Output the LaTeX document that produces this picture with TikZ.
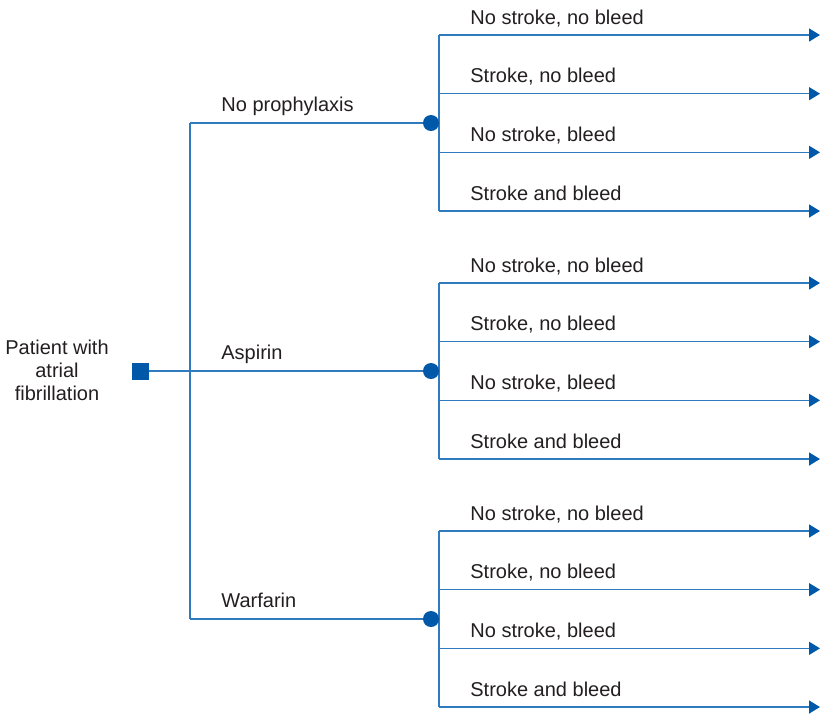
\documentclass[tikz,border=0pt]{standalone}
\usepackage{fontspec}
\setmainfont{Liberation Sans}
\definecolor{treeblue}{HTML}{2F7BC0}
\definecolor{nodeblue}{HTML}{0059A8}
\definecolor{labelgray}{HTML}{231F20}
\usetikzlibrary{arrows.meta}

\begin{document}
\begin{tikzpicture}[x=0.5pt, y=-0.5pt,
  branch/.style={draw=treeblue, line width=0.75pt},
  outcome/.style={branch, -{Triangle[length=5.5pt, width=6.5pt, color=nodeblue]}},
  decision/.style={fill=nodeblue, minimum size=8.5pt, inner sep=0pt},
  chance/.style={circle, fill=nodeblue, minimum size=8pt, inner sep=0pt},
  lbl/.style={font=\fontsize{10}{11.5}\selectfont, text=labelgray,
              inner sep=0pt, anchor=base west},
]
\useasboundingbox (0,0) rectangle (821,714);

% decision node
\node[decision] (dec) at (140.5,371) {};
\node[font=\fontsize{10}{11.5}\selectfont, text=labelgray, align=center,
      inner sep=0pt] (pt) at (57,370) {Patient with\\atrial\\fibrillation};
\coordinate (k1) at (190,123);
\coordinate (k3) at (190,619);
\draw[branch] (k1) -- (k3);

\foreach \n/\t/\cy in {1/No prophylaxis/123, 2/Aspirin/371, 3/Warfarin/619} {
  \coordinate (s\n top) at (439,\cy-88);
  \coordinate (s\n bot) at (439,\cy+88);
  \node[lbl] (t\n) at (221,\cy-12) {\t};
  \draw[branch] (s\n top) -- (s\n bot);
  % outcomes
  \foreach \k/\o in {0/{No stroke, no bleed}, 1/{Stroke, no bleed},
                     2/{No stroke, bleed}, 3/{Stroke and bleed}} {
    \coordinate (s\n\k) at (439,\cy-88+\k*58.67);
    \coordinate (e\n\k) at (820,\cy-88+\k*58.67);
    \draw[outcome] (s\n\k) -- (e\n\k);
    \node[lbl] (o\n\k) at (470,\cy-99+\k*58.67) {\o};
  }
  \node[chance] (c\n) at (431,\cy) {};
}
\draw[branch] (k1) -- (c1);
\draw[branch] (dec) -- (c2);
\draw[branch] (k3) -- (c3);
\end{tikzpicture}
\end{document}
